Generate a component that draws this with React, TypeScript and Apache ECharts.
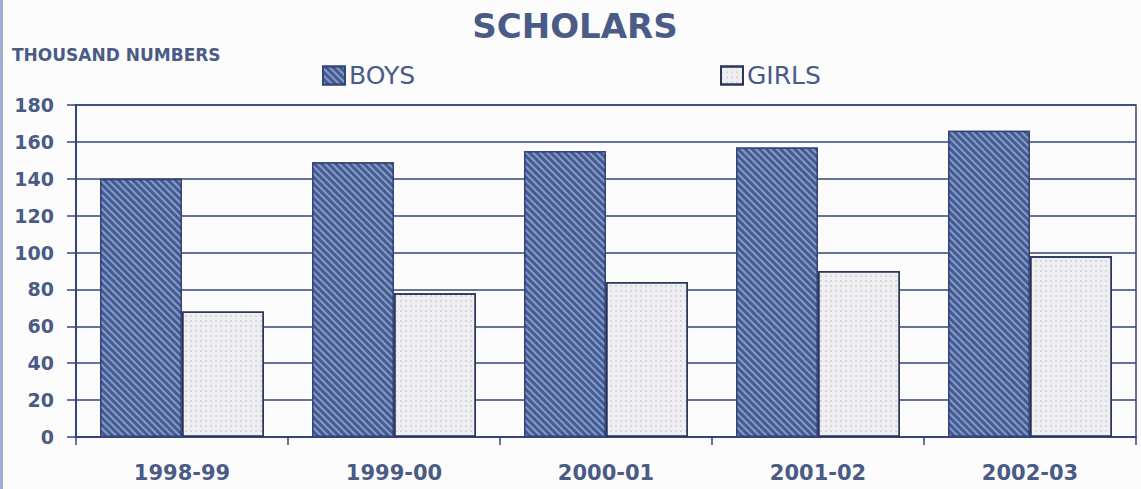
import React, { useEffect, useRef } from "react";
import * as echarts from "echarts";

const categories = ["1998-99", "1999-00", "2000-01", "2001-02", "2002-03"];
const boys = [140, 149, 155, 157, 166];
const girls = [68, 78, 84, 90, 98];
const yTicks = [0, 20, 40, 60, 80, 100, 120, 140, 160, 180];

const FONT = "'DejaVu Sans', Arial, sans-serif";
const INK = "#4a5b86";
const LINE = "#33457a";

export default function App() {
  const ref = useRef<HTMLDivElement>(null);
  useEffect(() => {
    if (!ref.current) return;
    const chart = echarts.init(ref.current, undefined, { renderer: "svg" });
    chart.setOption({
      animation: false,
      backgroundColor: "#fcfcfd",
      title: {
        text: "SCHOLARS",
        left: 570,
        textAlign: "center",
        top: 4,
        textStyle: { fontFamily: FONT, fontSize: 34, fontWeight: "bold", color: INK },
      },
      graphic: [
        {
          type: "text",
          left: 12,
          top: 46,
          style: { text: "THOUSAND NUMBERS", font: `bold 17px ${FONT}`, fill: INK },
        },
        {
          type: "rect",
          left: 0,
          top: 0,
          shape: { width: 3, height: 489 },
          style: { fill: "#9fb1d3" },
        },
      ],
      legend: [
        {
          data: ["BOYS"],
          icon: "rect",
          left: 317,
          top: 58,
          itemWidth: 22,
          itemHeight: 18,
          itemGap: 4,
          textStyle: { fontFamily: FONT, fontSize: 25, color: INK, padding: [2, 0, 0, -1] },
        },
        {
          data: ["GIRLS"],
          icon: "rect",
          left: 715,
          top: 58,
          itemWidth: 22,
          itemHeight: 18,
          itemGap: 4,
          textStyle: { fontFamily: FONT, fontSize: 25, color: INK, padding: [2, 0, 0, -1] },
        },
      ],
      grid: { left: 76, right: 5, top: 105, bottom: 52, show: true, borderColor: LINE, borderWidth: 1.5 },
      xAxis: {
        type: "category",
        data: categories,
        axisLine: { show: true, lineStyle: { color: LINE, width: 2 } },
        axisTick: { show: true, length: 8, lineStyle: { color: LINE, width: 1.5 } },
        axisLabel: { fontFamily: FONT, fontSize: 21, fontWeight: "bold", color: INK, margin: 25 },
      },
      yAxis: {
        type: "value",
        min: 0,
        max: 180,
        interval: 20,
        axisLine: { show: true, lineStyle: { color: LINE, width: 2 } },
        axisTick: { show: true, length: 9, lineStyle: { color: LINE, width: 1.5 } },
        axisLabel: {
          fontFamily: FONT,
          fontSize: 19,
          fontWeight: "bold",
          color: INK,
          margin: 22,
          formatter: (v: number) => (yTicks.includes(v) ? String(v) : ""),
        },
        splitLine: { show: true, lineStyle: { color: LINE, width: 1.5 } },
      },
      series: [
        {
          name: "BOYS",
          type: "bar",
          data: boys,
          barWidth: 82,
          barGap: "0%",
          itemStyle: {
            color: "#435c93",
            borderColor: LINE,
            borderWidth: 1.5,
            decal: {
              symbol: "rect",
              symbolSize: 1,
              dashArrayX: [1, 0],
              dashArrayY: [1.2, 2.2],
              rotation: Math.PI / 4,
              color: "rgba(190,205,235,0.55)",
            },
          },
        },
        {
          name: "GIRLS",
          type: "bar",
          data: girls,
          barWidth: 82,
          itemStyle: {
            color: "#efeff2",
            borderColor: "#2b3658",
            borderWidth: 1.5,
            decal: {
              symbol: "circle",
              symbolSize: 0.6,
              dashArrayX: [[2, 3]],
              dashArrayY: [2, 3],
              rotation: 0,
              color: "rgba(90,90,110,0.5)",
            },
          },
        },
      ],
    });
    return () => chart.dispose();
  }, []);
  return <div ref={ref} style={{ width: 1141, height: 489, position: "absolute", left: 0, top: 0 }} />;
}
